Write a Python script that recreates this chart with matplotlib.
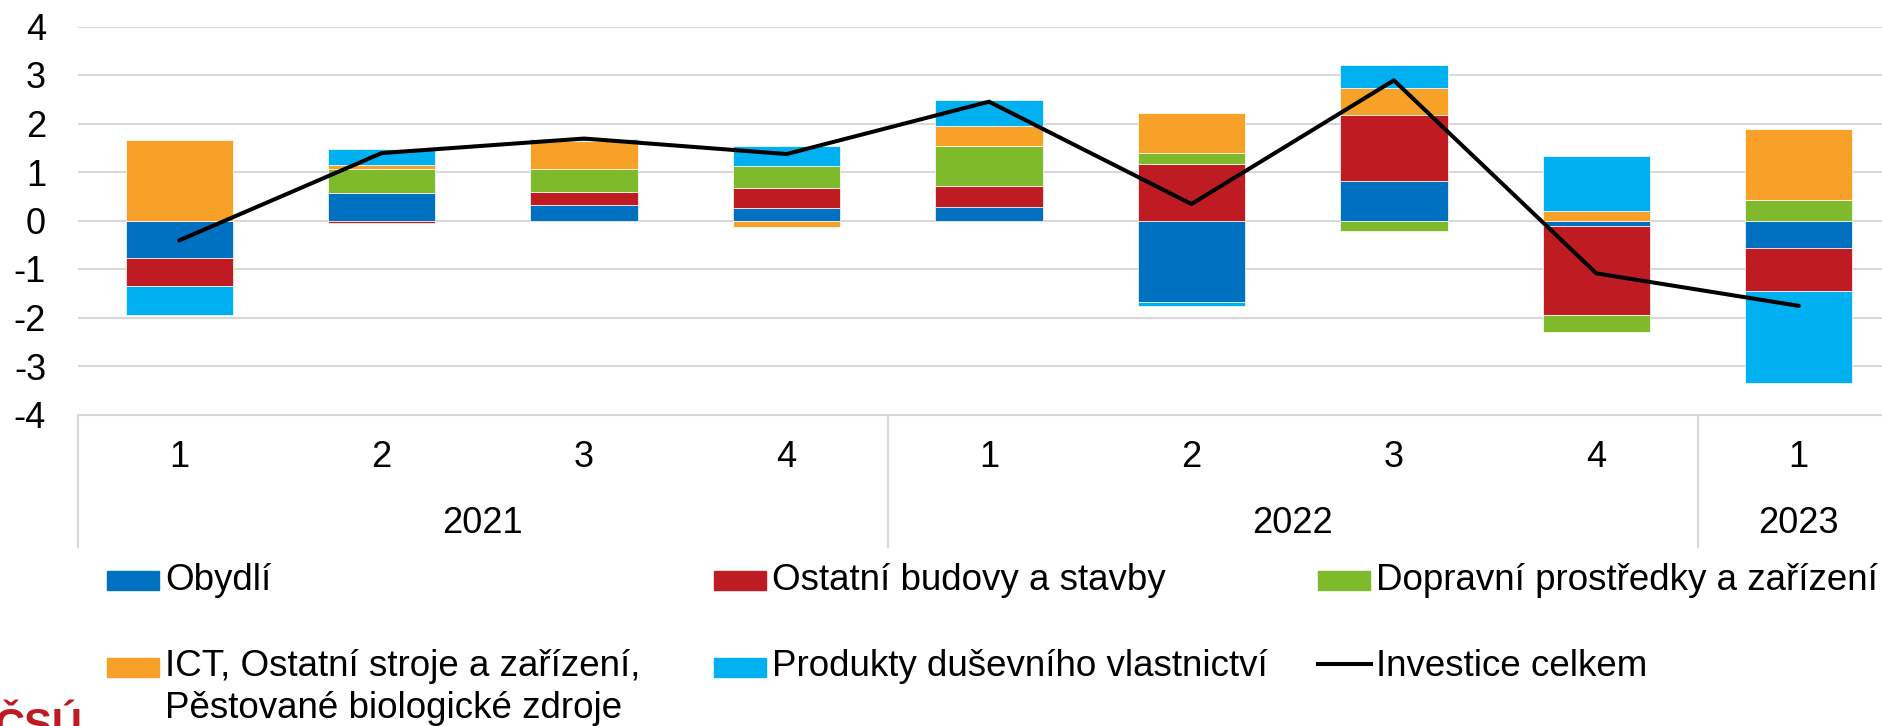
import matplotlib
matplotlib.use("Agg")
import matplotlib.pyplot as plt
import numpy as np
from matplotlib.patches import Rectangle
from matplotlib.lines import Line2D

plt.rcParams['font.family'] = ['Liberation Sans', 'DejaVu Sans']

## data (contributions, p.b.)
quarters = ['1', '2', '3', '4', '1', '2', '3', '4', '1']
years = ['2021', '2022', '2023']
year_len = [4, 4, 1]

obydli = [-0.78, 0.56, 0.31, 0.25, 0.28, -1.68, 0.81, -0.12, -0.57]
budovy = [-0.57, -0.06, 0.28, 0.43, 0.43, 1.17, 1.36, -1.83, -0.88]
doprava = [0.00, 0.51, 0.47, 0.44, 0.83, 0.22, -0.21, -0.34, 0.42]
ict = [1.66, 0.08, 0.57, -0.13, 0.41, 0.83, 0.56, 0.20, 1.47]
produkty = [-0.60, 0.32, 0.05, 0.41, 0.53, -0.08, 0.47, 1.13, -1.90]
celkem = [-0.41, 1.39, 1.69, 1.37, 2.45, 0.34, 2.89, -1.09, -1.76]

labels = ['Obydlí', 'Ostatní budovy a stavby', 'Dopravní prostředky a zařízení',
          'ICT, Ostatní stroje a zařízení,\nPěstované biologické zdroje',
          'Produkty duševního vlastnictví', 'Investice celkem']
colors = ['#0070C0', '#BE1B22', '#7FBA2C', '#F7A128', '#00B0F0']

W, H = 1883, 726
fig = plt.figure(figsize=(W / 100, H / 100), dpi=100)
ax = fig.add_axes([78 / W, 1 - 414.5 / H, (1900 - 78) / W, 388 / H])

x = np.arange(len(quarters))
pos = np.zeros(len(x))
neg = np.zeros(len(x))
for vals, c in zip([obydli, budovy, doprava, ict, produkty], colors):
    v = np.array(vals)
    base = np.where(v >= 0, pos, neg)
    ax.bar(x, v, bottom=base, width=0.53, color=c, edgecolor='white',
           linewidth=0.5, zorder=2)
    pos = pos + np.where(v >= 0, v, 0)
    neg = neg + np.where(v < 0, v, 0)

ax.plot(x, celkem, color='black', lw=2.9, zorder=3, solid_capstyle='round')

ax.set_xlim(-0.5, len(x) - 0.5)
ax.set_ylim(-4, 4)
ax.set_yticks(range(-4, 5))
ax.set_yticklabels([str(t) for t in range(-4, 5)])
ax.grid(axis='y', color='#D9D9D9', lw=1.5, zorder=0)
for s in ['top', 'right', 'left']:
    ax.spines[s].set_visible(False)
ax.spines['bottom'].set_color('#D9D9D9')
ax.spines['bottom'].set_linewidth(1.5)
ax.tick_params(axis='y', length=0, labelsize=26, pad=23)
ax.set_xticks([])

# category axis: quarters, years, separators
tr = ax.get_xaxis_transform()
for xi, q in zip(x, quarters):
    ax.text(xi, -0.112, q, transform=tr, ha='center', va='center', fontsize=26)
start = 0
seps = [-0.5]
for yr, n in zip(years, year_len):
    ax.text(start + (n - 1) / 2, -0.282, yr, transform=tr, ha='center',
            va='center', fontsize=26)
    start += n
    seps.append(start - 0.5)
for s in seps:
    ax.plot([s, s], [0, -0.342], transform=tr, color='#D9D9D9', lw=1.5,
            clip_on=False)

# legend
cols_x = [107, 714, 1318]
rows_y = [580, 667]
order = [(0, 0), (0, 1), (0, 2), (1, 0), (1, 1)]
for i, (r, c) in enumerate(order):
    px, py = cols_x[c], rows_y[r]
    fig.add_artist(Rectangle((px / W, 1 - (py + 9.5) / H), 52 / W, 19 / H,
                             color=colors[i], transform=fig.transFigure))
    lines = labels[i].split('\n')
    for j, ln in enumerate(lines):
        fig.text((px + 58) / W, 1 - (py + 41 * j) / H, ln, fontsize=26.5,
                 va='center', ha='left')
fig.add_artist(Line2D([1318 / W, 1371 / W], [1 - 664 / H, 1 - 664 / H],
                      color='black', lw=2.9, transform=fig.transFigure))
fig.text(1376 / W, 1 - 667 / H, labels[5], fontsize=26.5, va='center', ha='left')

# logo (cut off at the bottom, as in the source)
fig.text(-6 / W, 1 - 738 / H, 'ČSÚ', color='#BE1B22', fontsize=30,
         fontweight='bold', va='baseline', ha='left')

fig.savefig('out.png', dpi=100)
